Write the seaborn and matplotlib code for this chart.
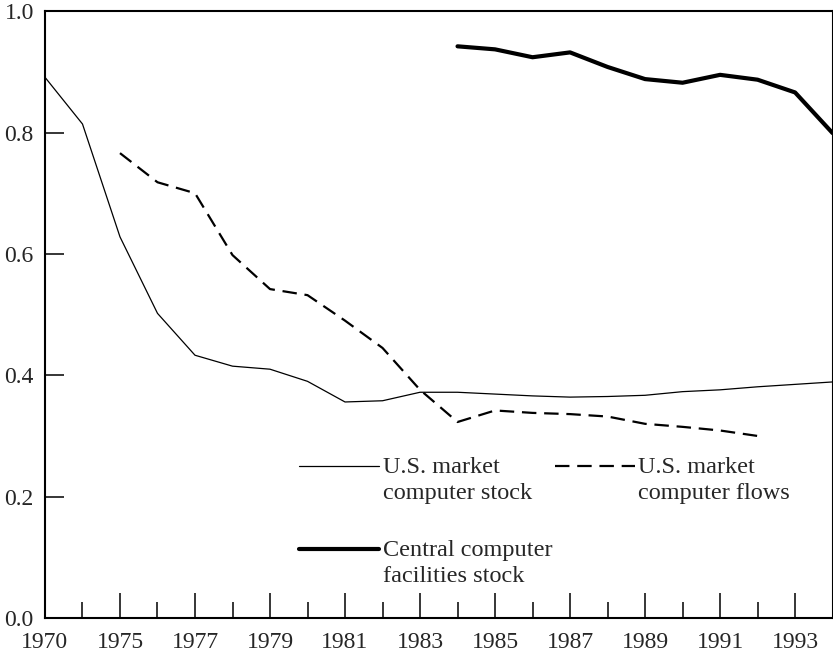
import numpy as np
import pandas as pd
import matplotlib
matplotlib.use("Agg")
import matplotlib.pyplot as plt
from matplotlib.legend_handler import HandlerLine2D
from matplotlib.lines import Line2D
import seaborn as sns

# Period slots along the horizontal axis (the first gap covers 1970-1975)
tick_labels = ["1970", "1975", "1977", "1979", "1981", "1983",
               "1985", "1987", "1989", "1991", "1993"]

# Share values, one per period slot (slot 0 = 1970, slot 2 = 1975, ... slot 21 = 1994)
us_stock = [0.891, 0.814, 0.628, 0.502, 0.433, 0.415, 0.410, 0.390, 0.356, 0.358,
            0.372, 0.372, 0.369, 0.366, 0.364, 0.365, 0.367, 0.373, 0.376, 0.381,
            0.385, 0.389]
us_flows = [0.766, 0.718, 0.700, 0.598, 0.542, 0.532, 0.490, 0.445, 0.376, 0.323,
            0.342, 0.338, 0.336, 0.332, 0.320, 0.315, 0.309, 0.300]
central_stock = [0.942, 0.937, 0.924, 0.932, 0.908, 0.888, 0.882, 0.895, 0.887,
                 0.866, 0.799]

flows_start = 2
central_start = 11

sns.set_style("ticks")
plt.rcParams["font.family"] = ["Liberation Serif", "DejaVu Serif"]
plt.rcParams["font.size"] = 17

LEGEND_FS = 17.5
LINE_SP = 1.32
HANDLE_SHIFT_PT = 9.9  # half the gap between the two label lines


class FirstLineHandler(HandlerLine2D):
    """Legend line drawn level with the first line of a two-line label."""

    def create_artists(self, legend, orig_handle, xdescent, ydescent, width,
                       height, fontsize, trans):
        artists = super().create_artists(legend, orig_handle, xdescent, ydescent,
                                         width, height, fontsize, trans)
        for art in artists:
            if isinstance(art, Line2D):
                art.set_ydata(np.asarray(art.get_ydata(), dtype=float) + HANDLE_SHIFT_PT)
        return artists


stock_df = pd.DataFrame({"slot": np.arange(len(us_stock)), "share": us_stock})
flows_df = pd.DataFrame({"slot": np.arange(flows_start, flows_start + len(us_flows)),
                         "share": us_flows})
central_df = pd.DataFrame({"slot": np.arange(central_start, central_start + len(central_stock)),
                           "share": central_stock})

fig = plt.figure(figsize=(8.33, 6.54), dpi=100)
ax = fig.add_axes([0.054, 0.055, 0.9455, 0.928])

sns.lineplot(data=stock_df, x="slot", y="share", ax=ax, color="black",
             linewidth=0.9, label="U.S. market\ncomputer stock")
sns.lineplot(data=central_df, x="slot", y="share", ax=ax, color="black",
             linewidth=3.0, label="Central computer\nfacilities stock")
sns.lineplot(data=flows_df, x="slot", y="share", ax=ax, color="black",
             linewidth=1.6, label="U.S. market\ncomputer flows")
ax.lines[-1].set_dashes((6.5, 3.5))

ax.set_xlim(0, len(us_stock) - 1)
ax.set_ylim(0.0, 1.0)

ax.set_xticks(np.arange(0, 21, 2))
ax.set_xticklabels(tick_labels)
ax.set_xticks(np.arange(1, 21, 2), minor=True)
ax.set_yticks([0.0, 0.2, 0.4, 0.6, 0.8, 1.0])
ax.set_yticklabels(["0.0", "0.2", "0.4", "0.6", "0.8", "1.0"])

ax.tick_params(axis="x", which="major", direction="in", length=18, width=1.1,
               pad=10, labelsize=17, color="black")
ax.tick_params(axis="x", which="minor", direction="in", length=11.5, width=1.1,
               color="black")
ax.tick_params(axis="y", direction="in", length=14, width=1.1, pad=8,
               labelsize=17, color="black")
ax.set_xlabel("")
ax.set_ylabel("")

for side in ["left", "bottom", "top", "right"]:
    ax.spines[side].set_visible(True)
    ax.spines[side].set_linewidth(1.5)
    ax.spines[side].set_color("black")

handles, labels = ax.get_legend_handles_labels()
leg = ax.legend(handles, labels, loc="upper left", bbox_to_anchor=(0.31, 0.282),
                ncol=2, frameon=False, fontsize=LEGEND_FS, handlelength=3.3,
                handletextpad=0.15, columnspacing=0.1, labelspacing=1.5,
                borderaxespad=0.0,
                handler_map={Line2D: FirstLineHandler()})
for t in leg.get_texts():
    t.set_linespacing(LINE_SP)

fig.savefig("out.png", dpi=100, facecolor="white")
